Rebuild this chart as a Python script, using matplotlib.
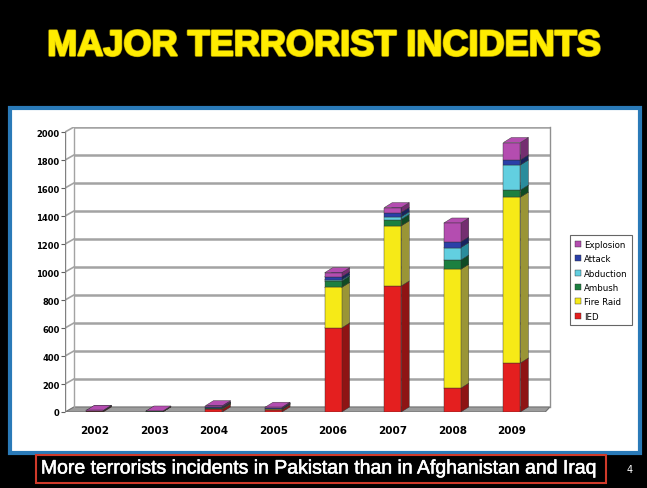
import matplotlib.pyplot as plt
from matplotlib.patches import Polygon, Rectangle
import matplotlib.patheffects as pe
import numpy as np

years = ["2002", "2003", "2004", "2005", "2006", "2007", "2008", "2009"]
ied = [5, 2, 20, 15, 600, 900, 170, 350]
fire_raid = [2, 1, 5, 5, 290, 430, 850, 1185]
ambush = [1, 1, 5, 3, 45, 45, 65, 50]
abduction = [0, 0, 2, 1, 10, 20, 90, 180]
attack = [1, 0, 3, 2, 20, 30, 40, 35]
explosion = [3, 3, 10, 8, 30, 35, 135, 125]

series = [
    ("IED", ied, "#e41f1f", "#8e1414"),
    ("Fire Raid", fire_raid, "#f6ea17", "#9a9536"),
    ("Ambush", ambush, "#1c8040", "#0f4a24"),
    ("Abduction", abduction, "#62cfe0", "#2a8c9c"),
    ("Attack", attack, "#2a3fa8", "#18235e"),
    ("Explosion", explosion, "#b44db0", "#742e70"),
]

W, H = 647, 489
fig = plt.figure(figsize=(W / 100, H / 100), dpi=100, facecolor="black")

# panneau blanc, bord bleu
fig.patches.append(Rectangle((10 / W, 1 - 454 / H), 630 / W, 345 / H, transform=fig.transFigure,
                             facecolor="white", edgecolor="#2a7ab8", linewidth=3, zorder=-5))
fig.text(0.5, 1 - 47 / H, "MAJOR TERRORIST INCIDENTS", color="#ffec00", fontsize=26,
         fontweight="bold", family="Liberation Sans", ha="center", va="center",
         path_effects=[pe.Stroke(linewidth=1.8, foreground="#b8a400"), pe.Stroke(linewidth=0.8, foreground="#ffec00"), pe.Normal()])
fig.patches.append(Rectangle((36 / W, 1 - 484 / H), 570 / W, 28 / H, transform=fig.transFigure,
                             facecolor="black", edgecolor="#d03a2a", linewidth=1.5, zorder=-5))
fig.text(321 / W, 1 - 470 / H, "More terrorists incidents in Pakistan than in Afghanistan and Iraq",
         color="white", fontsize=14, family="Liberation Sans", ha="center", va="center",
         path_effects=[pe.Stroke(linewidth=0.4, foreground="white"), pe.Normal()])
fig.text(630 / W, 1 - 470 / H, "4", color="white", fontsize=7, ha="center", va="center")

ax = fig.add_axes([65 / W, 1 - 413 / H, 485 / W, 285 / H])
ax.set_facecolor("none")
x0, x1 = -0.5, 7.64
ax.set_xlim(x0, x1)
ax.set_ylim(0, 2036)
for s in ax.spines.values():
    s.set_visible(False)

dx, dy = 0.15, 36  # decalage 3d du mur
ticks = np.arange(0, 2001, 200)
gc = "#a3a3a3"
# sol
ax.add_patch(Polygon([(x0, 0), (x0 + dx, dy), (x1, dy), (x1 - 0.08, 0)], closed=True,
                     facecolor="#9c9c9c", edgecolor="#707070", lw=0.8, zorder=1))
for v in ticks[1:]:
    ax.plot([x0 + dx, x1], [v + dy, v + dy], color=gc, lw=1.8, zorder=1, solid_capstyle="butt")
    ax.plot([x0, x0 + dx], [v, v + dy], color=gc, lw=1.2, zorder=1)
ax.plot([x0, x0], [0, 2000], color="#808080", lw=1.0, zorder=2)
ax.plot([x0 + dx, x0 + dx], [dy, 2000 + dy], color=gc, lw=1.0, zorder=1)
ax.plot([x1, x1], [dy, 2000 + dy], color="#909090", lw=1.0, zorder=1, clip_on=False)

# barres empilees 3d
bw = 0.285
bdx, bdy = 0.135, 36
xs = np.arange(len(years))
bottom = np.zeros(len(years))
for name, vals, front, side in series:
    vals = np.array(vals, dtype=float)
    for i, xv in enumerate(xs):
        if vals[i] <= 0:
            continue
        b, t = bottom[i], bottom[i] + vals[i]
        l, r = xv - bw / 2, xv + bw / 2
        ax.add_patch(Polygon([(r, b), (r + bdx, b + bdy), (r + bdx, t + bdy), (r, t)],
                             facecolor=side, edgecolor="#303030", lw=0.3, zorder=3))
        ax.add_patch(Polygon([(l, t), (r, t), (r + bdx, t + bdy), (l + bdx, t + bdy)],
                             facecolor=front, edgecolor="#303030", lw=0.3, zorder=3))
    ax.bar(xs, vals, bw, bottom=bottom, color=front, edgecolor="#303030", lw=0.3, zorder=3, label=name)
    bottom += vals

ax.set_yticks(ticks)
ax.set_yticklabels([str(t) for t in ticks], fontsize=6, fontweight="bold")
ax.set_xticks(xs)
ax.set_xticklabels(years, fontsize=7.5, fontweight="bold")
ax.tick_params(axis="x", length=0, pad=9)
ax.tick_params(axis="y", length=3, width=0.8, color="#606060", pad=1)

h, lab = ax.get_legend_handles_labels()
leg = fig.legend(h[::-1], lab[::-1], loc="upper left", bbox_to_anchor=(566 / W, 1 - 232 / H),
                 fontsize=6.2, frameon=True, fancybox=False, edgecolor="#404040",
                 handlelength=0.7, handleheight=0.7, handletextpad=0.3, labelspacing=0.62,
                 borderpad=0.55)
leg.get_frame().set_linewidth(0.8)

fig.savefig("out.png", dpi=100, facecolor="black")
